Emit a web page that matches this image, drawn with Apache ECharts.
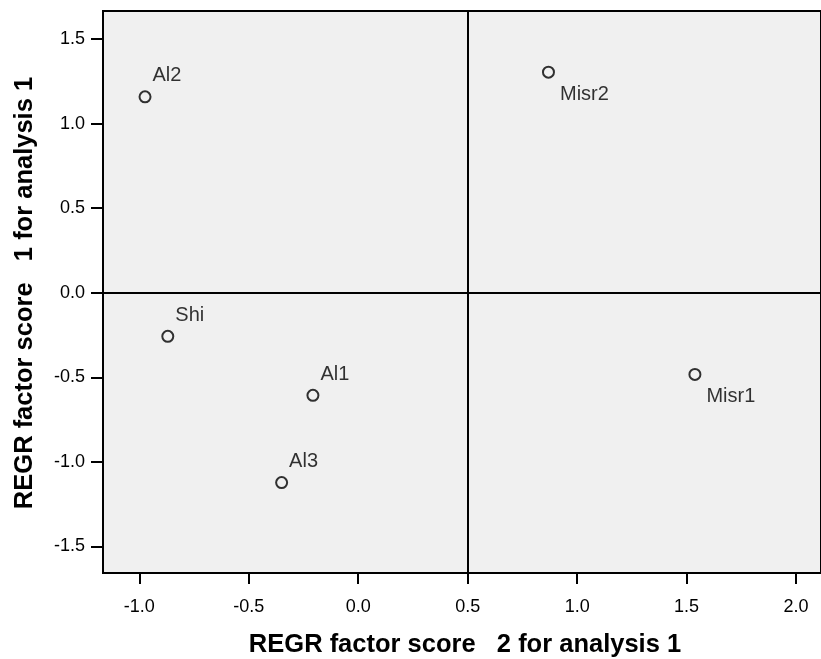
<!DOCTYPE html>
<html>
<head>
<meta charset="utf-8">
<script src="https://cdn.jsdelivr.net/npm/echarts@6/dist/echarts.min.js"></script>
<style>
  html, body { margin: 0; padding: 0; background: #fff; }
  #chart { width: 821px; height: 659px; }
</style>
</head>
<body>
<div id="chart"></div>
<script>
// factor scores
const names = ['Al2', 'Misr2', 'Shi', 'Al1', 'Al3', 'Misr1'];
const score2 = [-0.974, 0.869, -0.870, -0.207, -0.350, 1.538];
const score1 = [1.159, 1.305, -0.258, -0.607, -1.123, -0.483];
const labelBelow = [false, true, false, false, false, true];

const xTicks = [-1.0, -0.5, 0.0, 0.5, 1.0, 1.5, 2.0];
const yTicks = [-1.5, -1.0, -0.5, 0.0, 0.5, 1.0, 1.5];
const refX = 0.5;
const refY = 0.0;

const font = 'Liberation Sans, Arial, sans-serif';
const chart = echarts.init(document.getElementById('chart'));

const points = names.map((n, i) => ({
  value: [score2[i], score1[i]],
  name: n,
  label: labelBelow[i]
    ? { offset: [5, 22] }
    : { offset: [1, -21] }
}));

chart.setOption({
  animation: false,
  backgroundColor: '#fff',
  grid: {
    left: 103, top: 11, right: -2, bottom: 86,
    show: true,
    backgroundColor: '#f0f0f0',
    borderColor: '#000',
    borderWidth: 2
  },
  xAxis: {
    type: 'value',
    min: -1.166, max: 2.114,
    splitLine: { show: false },
    axisLine: { show: false, onZero: false },
    axisTick: { show: true, customValues: xTicks, length: 11, lineStyle: { color: '#000', width: 2 } },
    axisLabel: {
      customValues: xTicks, margin: 25,
      color: '#000', fontSize: 18, fontFamily: font,
      formatter: v => v.toFixed(1)
    }
  },
  yAxis: {
    type: 'value',
    min: -1.658, max: 1.667,
    splitLine: { show: false },
    axisLine: { show: false, onZero: false },
    axisTick: { show: true, customValues: yTicks, length: 12, lineStyle: { color: '#000', width: 2 } },
    axisLabel: {
      customValues: yTicks, margin: 18,
      color: '#000', fontSize: 18, fontFamily: font,
      formatter: v => v.toFixed(1)
    }
  },
  graphic: [
    {
      type: 'text', x: 465, y: 645,
      style: { text: 'REGR factor score   2 for analysis 1', font: 'bold 25.5px ' + font, fill: '#000', align: 'center', verticalAlign: 'middle' }
    },
    {
      type: 'text', x: 25, y: 293, rotation: Math.PI / 2,
      style: { text: 'REGR factor score   1 for analysis 1', font: 'bold 25.5px ' + font, fill: '#000', align: 'center', verticalAlign: 'middle' }
    }
  ],
  series: [{
    type: 'scatter',
    data: points,
    symbol: 'circle',
    symbolSize: 11,
    itemStyle: { color: 'rgba(0,0,0,0)', borderColor: '#000', borderWidth: 2 },
    label: {
      show: true, position: 'right', distance: 0,
      formatter: p => p.name,
      color: '#000', fontSize: 20, fontFamily: font
    },
    markLine: {
      silent: true, symbol: 'none',
      label: { show: false },
      lineStyle: { color: '#000', width: 2, type: 'solid' },
      data: [{ xAxis: refX }, { yAxis: refY }]
    }
  }]
});
</script>
</body>
</html>
